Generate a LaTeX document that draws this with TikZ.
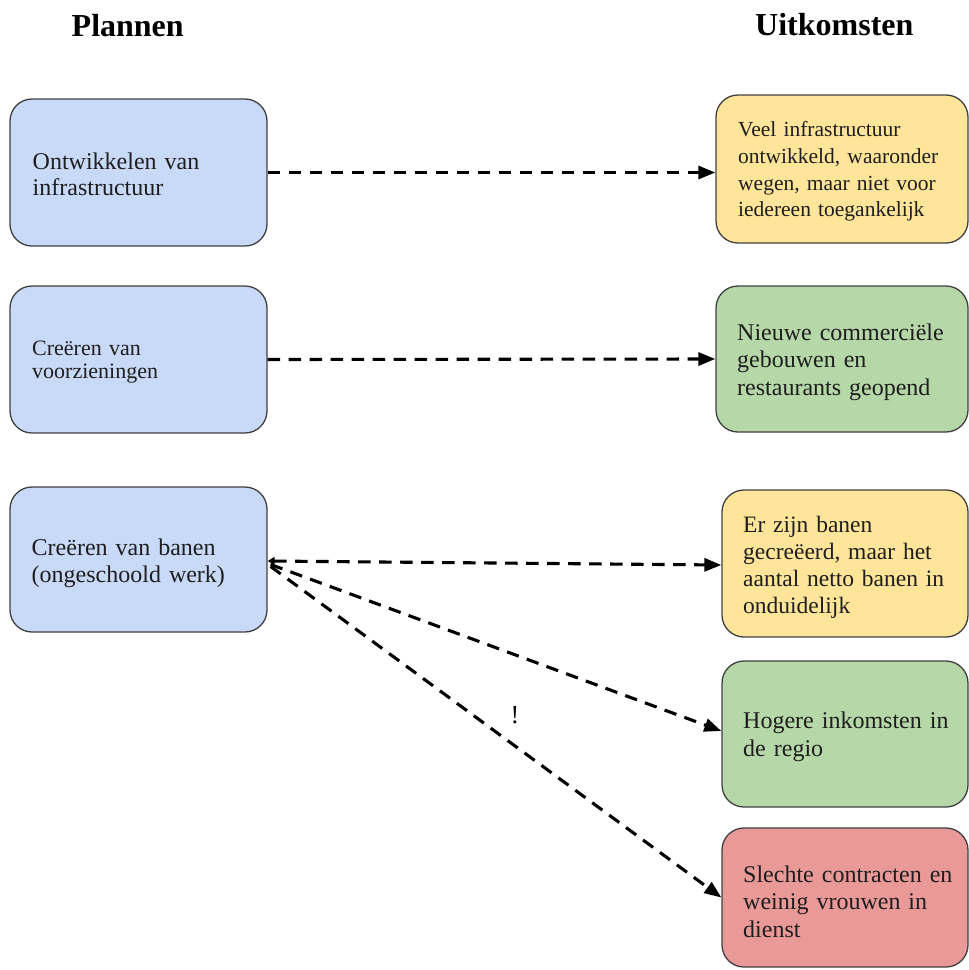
\documentclass[tikz,border=0pt]{standalone}
\usepackage{fontspec}
\setmainfont{Liberation Serif}
\usetikzlibrary{arrows.meta,calc}
\definecolor{cblue}{HTML}{C9DAF8}
\definecolor{cyellow}{HTML}{FFE599}
\definecolor{cgreen}{HTML}{B6D7A8}
\definecolor{cred}{HTML}{EA9999}
\definecolor{cborder}{HTML}{404040}
\definecolor{ctext}{HTML}{1E1E1E}
\begin{document}
\begin{tikzpicture}[x=1pt,y=-1pt,
  box/.style={draw=cborder, line width=1.3pt, rounded corners=22pt, inner sep=0pt, minimum width=#1},
  txt/.style={anchor=base west, inner sep=0pt, text width=240pt, align=left, text=ctext},
  title/.style={anchor=base west, inner sep=0pt, font=\fontsize{32}{36}\selectfont\bfseries},
  conn/.style={line width=3.1pt, dash pattern=on 12.5pt off 8.5pt, -{Triangle[length=17pt,width=13pt]}}]
\useasboundingbox (0,0) rectangle (969,970);

% titles
\node[title] (tP) at (71.5,36) {Plannen};
\node[title] (tU) at (755,35) {Uitkomsten};

% left boxes
\node[box=257pt, fill=cblue, minimum height=147pt] (L1) at (138.5,172.5) {};
\node[box=257pt, fill=cblue, minimum height=147pt] (L2) at (138.5,359.5) {};
\node[box=257pt, fill=cblue, minimum height=145pt] (L3) at (138.5,559.5) {};

% right boxes
\node[box=252pt, fill=cyellow, minimum height=148pt] (R1) at (842,169) {};
\node[box=252pt, fill=cgreen, minimum height=146pt] (R2) at (842,359) {};
\node[box=246pt, fill=cyellow, minimum height=147pt] (R3) at (845,563.5) {};
\node[box=246pt, fill=cgreen, minimum height=146pt] (R4) at (845,734) {};
\node[box=246pt, fill=cred, minimum height=139pt] (R5) at (845,897.5) {};

% texts
\node[txt, font=\fontsize{24}{26}\selectfont] (L1t) at (32.5,169) {Ontwikkelen van\\infrastructuur};
\node[txt, font=\fontsize{22}{23.5}\selectfont] (L2t) at (32,355) {Creëren van\\voorzieningen};
\node[txt, font=\fontsize{24}{27}\selectfont] (L3t) at (31.5,555) {Creëren van banen\\(ongeschoold werk)};
\node[txt, font=\fontsize{21.5}{26.8}\selectfont] (R1t) at (738,136.5) {Veel infrastructuur\\ontwikkeld, waaronder\\wegen, maar niet voor\\iedereen toegankelijk};
\node[txt, font=\fontsize{24}{27.5}\selectfont] (R2t) at (737,340) {Nieuwe commerciële\\gebouwen en\\restaurants geopend};
\node[txt, font=\fontsize{23.5}{27}\selectfont] (R3t) at (743,532) {Er zijn banen\\gecreëerd, maar het\\aantal netto banen in\\onduidelijk};
\node[txt, font=\fontsize{24}{28}\selectfont] (R4t) at (743,728) {Hogere inkomsten in\\de regio};
\node[txt, font=\fontsize{24}{27.5}\selectfont] (R5t) at (743,882) {Slechte contracten en\\weinig vrouwen in\\dienst};

% connectors
\draw[conn] (L1.east) -- (L1.east -| R1.west);
\draw[conn] (L2.east) -- (R2.west);
\draw[conn, {Triangle[length=7pt,width=8pt]}-{Triangle[length=17pt,width=13pt]}] ($(L3.east)+(0,1.5)$) -- ($(R3.west)+(0,1.5)$);
\draw[conn] ($(L3.east)+(3,5)$) -- ($(R4.west)+(0,-3)$);
\draw[conn] ($(L3.east)+(3,7)$) -- (R5.west);

\node[font=\fontsize{26}{28}\selectfont, inner sep=0pt] (excl) at (515,715) {!};
\end{tikzpicture}
\end{document}
